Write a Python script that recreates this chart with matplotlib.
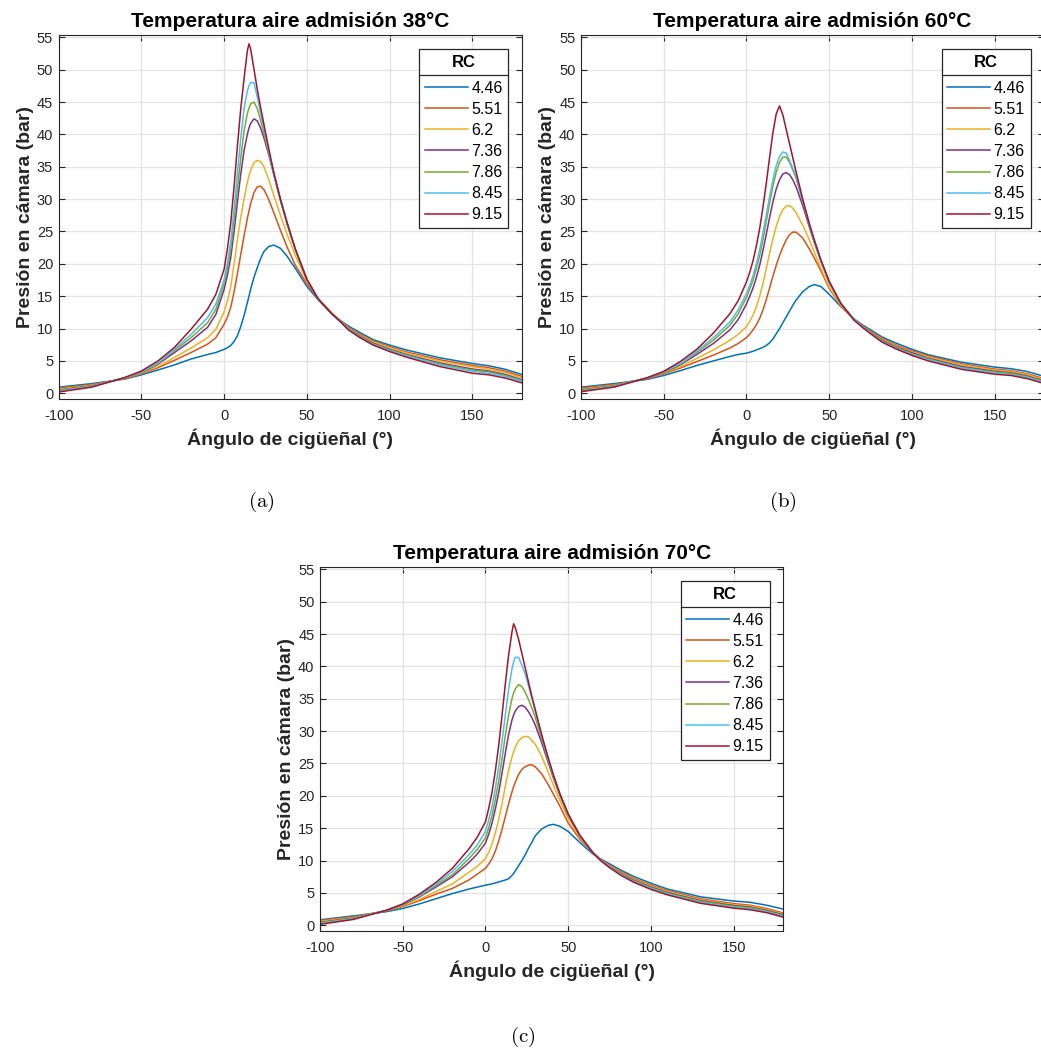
import matplotlib
matplotlib.use('Agg')
import matplotlib.pyplot as plt
from matplotlib.lines import Line2D

plt.rcParams['font.family'] = ['Liberation Sans', 'DejaVu Sans']
plt.rcParams['mathtext.fontset'] = 'cm'
plt.rcParams['axes.unicode_minus'] = False

rc_labels = ['4.46', '5.51', '6.2', '7.36', '7.86', '8.45', '9.15']
colors = ['#0072BD', '#D95319', '#EDB120', '#7E2F8E', '#77AC30', '#4DBEEE', '#A2142F']
titles = ['Temperatura aire admisión 38°C', 'Temperatura aire admisión 60°C',
          'Temperatura aire admisión 70°C']
captions = ['(a)', '(b)', '(c)']

# ---- 38 °C ----
xa = [-100, -80, -60, -50, -40, -30, -20, -10, -5, 0, 2, 4, 6, 8, 10, 12, 14, 15, 16, 18, 20, 22, 24,
      27, 30, 34, 38, 43, 50, 57, 65, 70, 75, 82, 90, 100, 110, 130, 150, 160, 170, 180]
pa_446 = [0.95, 1.5, 2.2, 2.85, 3.6, 4.4, 5.3, 6.0, 6.3, 6.8, 7.05, 7.4, 8.0, 8.9, 10.3, 12.0,
          14.0, 15.0, 16.1, 17.9, 19.4, 20.8, 21.9, 22.7, 22.9, 22.4, 21.2, 19.3, 16.5, 14.4, 12.3,
          11.3, 10.4, 9.4, 8.3, 7.45, 6.7, 5.5, 4.6, 4.25, 3.7, 2.9]
pa_551 = [0.8, 1.35, 2.25, 3.0, 3.95, 5.1, 6.3, 7.6, 8.6, 10.7, 11.8, 13.3, 15.7, 18.5, 21.4, 24.3,
          27.0, 28.2, 29.3, 31.0, 31.9, 32.0, 31.5, 29.9, 27.9, 25.2, 22.6, 19.8, 16.9, 14.6, 12.4,
          11.25, 10.2, 9.15, 8.1, 7.2, 6.4, 5.2, 4.3, 3.95, 3.4, 2.6]
pa_62 = [0.65, 1.25, 2.3, 3.1, 4.15, 5.55, 7.0, 8.6, 9.9, 12.6, 14.3, 16.5, 20.0, 23.8, 27.1, 30.0,
         32.6, 33.6, 34.5, 35.6, 36.0, 35.8, 35.0, 33.0, 30.6, 27.5, 24.6, 21.3, 17.3, 14.6, 12.4,
         11.2, 10.1, 9.0, 7.95, 7.05, 6.25, 5.0, 4.1, 3.75, 3.2, 2.4]
pa_736 = [0.5, 1.15, 2.35, 3.2, 4.5, 6.3, 8.1, 10.2, 12.2, 16.1, 18.3, 21.0, 25.0, 29.5, 33.8, 37.5,
          40.0, 41.0, 41.7, 42.4, 42.1, 41.0, 39.5, 36.8, 33.8, 29.8, 26.2, 22.2, 17.6, 14.5, 12.3,
          11.2, 10.0, 8.85, 7.75, 6.8, 6.0, 4.7, 3.75, 3.45, 2.9, 2.1]
pa_786 = [0.45, 1.1, 2.4, 3.25, 4.6, 6.6, 8.6, 10.9, 13.0, 16.9, 19.3, 22.3, 26.7, 31.5, 36.3, 40.5,
          43.2, 44.1, 44.7, 45.0, 44.0, 42.2, 40.2, 37.0, 33.9, 29.9, 26.3, 22.2, 17.6, 14.5, 12.3,
          11.15, 9.95, 8.75, 7.65, 6.7, 5.9, 4.55, 3.6, 3.3, 2.75, 2.0]
pa_845 = [0.35, 1.05, 2.4, 3.3, 4.7, 6.8, 9.1, 11.7, 13.8, 17.6, 20.2, 23.5, 28.5, 34.0, 39.3, 44.0,
          46.7, 47.5, 48.0, 48.0, 45.8, 43.3, 41.0, 37.4, 34.0, 30.0, 26.4, 22.3, 17.6, 14.5, 12.3,
          11.15, 9.9, 8.7, 7.55, 6.6, 5.8, 4.4, 3.4, 3.1, 2.6, 1.85]
pa_915 = [0.2, 0.95, 2.45, 3.45, 5.0, 7.1, 9.9, 13.0, 15.3, 19.2, 22.4, 26.4, 32.0, 38.2, 43.9, 48.6,
          52.9, 54.0, 53.2, 50.1, 47.0, 44.2, 41.6, 37.7, 34.1, 30.0, 26.4, 22.3, 17.6, 14.5, 12.3,
          11.1, 9.8, 8.6, 7.45, 6.45, 5.6, 4.15, 3.1, 2.85, 2.35, 1.6]

# ---- 60 °C ----
xb = [-100, -80, -60, -50, -40, -30, -20, -10, -5, 0, 2, 4, 6, 8, 10, 12, 14, 16, 18, 20, 22, 24, 26, 28,
      30, 34, 38, 41, 45, 50, 57, 65, 70, 75, 82, 90, 100, 110, 130, 150, 160, 170, 180]
pb_446 = [0.95, 1.5, 2.15, 2.75, 3.5, 4.3, 5.0, 5.7, 6.0, 6.2, 6.35, 6.5, 6.7, 6.9, 7.1, 7.4,
          7.8, 8.4, 9.2, 10.0, 10.9, 11.8, 12.7, 13.6, 14.4, 15.7, 16.5, 16.8, 16.5, 15.3, 13.4, 11.5,
          10.6, 9.8, 8.7, 7.8, 6.8, 5.95, 4.8, 4.05, 3.8, 3.35, 2.6]
pb_551 = [0.8, 1.35, 2.25, 3.0, 3.9, 4.9, 5.9, 7.0, 7.7, 8.6, 9.15, 9.8, 10.6, 11.6, 12.9, 14.5,
          16.3, 18.1, 19.8, 21.3, 22.6, 23.7, 24.5, 24.9, 24.9, 24.0, 22.3, 20.9, 18.9, 16.2, 13.5, 11.4,
          10.5, 9.6, 8.5, 7.5, 6.55, 5.75, 4.55, 3.75, 3.5, 3.0, 2.25]
pb_62 = [0.65, 1.25, 2.3, 3.1, 4.1, 5.4, 6.7, 8.2, 9.1, 10.3, 11.1, 12.1, 13.4, 15.0, 17.0, 19.3,
         21.7, 23.9, 25.8, 27.3, 28.4, 28.9, 29.0, 28.6, 27.9, 26.0, 23.7, 21.8, 19.3, 16.4, 13.6, 11.4,
         10.45, 9.5, 8.35, 7.35, 6.4, 5.6, 4.4, 3.6, 3.35, 2.85, 2.1]
pb_736 = [0.5, 1.15, 2.35, 3.2, 4.4, 6.0, 7.7, 9.8, 11.4, 13.8, 15.0, 16.3, 17.9, 19.8, 22.1, 24.6,
          27.2, 29.6, 31.6, 33.0, 33.9, 34.1, 33.8, 33.0, 31.9, 29.0, 25.7, 23.3, 20.4, 17.1, 13.9, 11.4,
          10.4, 9.4, 8.2, 7.2, 6.25, 5.4, 4.15, 3.4, 3.15, 2.65, 1.9]
pb_786 = [0.45, 1.1, 2.4, 3.25, 4.5, 6.3, 8.2, 10.5, 12.3, 14.8, 16.1, 17.5, 19.3, 21.3, 23.8, 26.6,
          29.4, 32.0, 34.2, 35.7, 36.5, 36.5, 35.7, 34.5, 33.2, 29.7, 26.0, 23.5, 20.5, 17.2, 13.9, 11.4,
          10.35, 9.35, 8.1, 7.1, 6.1, 5.3, 4.0, 3.3, 3.05, 2.55, 1.8]
pb_845 = [0.35, 1.05, 2.4, 3.3, 4.6, 6.5, 8.6, 11.0, 12.9, 15.4, 16.7, 18.2, 20.0, 22.2, 24.8, 27.6,
          30.4, 33.0, 35.2, 36.6, 37.3, 37.1, 36.0, 34.8, 33.5, 29.8, 26.1, 23.6, 20.5, 17.2, 13.9, 11.4,
          10.3, 9.3, 8.0, 7.0, 6.0, 5.2, 3.9, 3.15, 2.9, 2.45, 1.7]
pb_915 = [0.25, 0.95, 2.4, 3.4, 4.9, 6.8, 9.3, 12.3, 14.3, 17.2, 18.7, 20.5, 22.8, 25.5, 28.8, 32.5,
          36.5, 40.3, 43.2, 44.4, 43.0, 40.8, 38.6, 36.4, 34.2, 30.0, 26.2, 23.7, 20.6, 17.3, 13.9, 11.3,
          10.2, 9.2, 7.9, 6.9, 5.85, 5.0, 3.7, 2.95, 2.75, 2.25, 1.5]

# ---- 70 °C ----
xc = [-100, -80, -60, -50, -40, -30, -20, -10, -5, 0, 2, 4, 6, 8, 10, 12, 14, 16, 17, 18, 20, 22, 24, 26, 28,
      30, 34, 38, 41, 45, 50, 57, 65, 70, 75, 82, 90, 100, 110, 130, 150, 160, 170, 180]
pc_446 = [0.85, 1.45, 2.1, 2.6, 3.3, 4.1, 4.9, 5.6, 5.9, 6.2, 6.3, 6.4, 6.55, 6.7, 6.85, 7.0,
          7.2, 7.7, 8.0, 8.4, 9.2, 10.0, 10.9, 11.9, 12.8, 13.8, 14.9, 15.45, 15.6, 15.3, 14.5, 12.8, 11.0,
          10.2, 9.5, 8.5, 7.5, 6.5, 5.6, 4.4, 3.75, 3.55, 3.1, 2.5]
pc_551 = [0.75, 1.3, 2.2, 2.9, 3.8, 4.8, 5.7, 7.0, 7.9, 8.8, 9.5, 10.3, 11.5, 13.0, 14.8, 16.8,
          18.8, 20.6, 21.4, 22.1, 23.3, 24.1, 24.5, 24.75, 24.8, 24.5, 23.4, 21.7, 20.3, 18.4, 15.8, 13.3, 11.2,
          10.1, 9.3, 8.3, 7.2, 6.2, 5.35, 4.1, 3.35, 3.1, 2.6, 1.9]
pc_62 = [0.6, 1.2, 2.25, 3.0, 4.0, 5.2, 6.4, 8.2, 9.1, 10.3, 11.3, 12.6, 14.3, 16.3, 18.8, 21.5,
         24.0, 26.0, 26.8, 27.5, 28.5, 29.0, 29.2, 29.1, 28.6, 28.0, 26.1, 23.6, 21.7, 19.3, 16.5, 13.6, 11.2,
         10.05, 9.2, 8.15, 7.05, 6.05, 5.2, 3.95, 3.2, 2.95, 2.45, 1.75]
pc_736 = [0.45, 1.1, 2.3, 3.15, 4.4, 5.9, 7.5, 9.7, 11.0, 12.7, 14.1, 15.8, 18.0, 20.5, 23.5, 26.6,
          29.5, 31.7, 32.5, 33.1, 33.8, 34.0, 33.7, 33.0, 32.1, 31.0, 28.2, 25.1, 22.8, 20.1, 17.0, 13.9, 11.2,
          10.0, 9.1, 8.0, 6.9, 5.9, 5.05, 3.8, 3.05, 2.8, 2.3, 1.6]
pc_786 = [0.4, 1.05, 2.3, 3.2, 4.5, 6.1, 7.8, 10.3, 11.7, 13.5, 15.1, 17.0, 19.5, 22.3, 25.7, 29.3,
          32.5, 35.0, 35.9, 36.5, 37.2, 36.9, 36.0, 34.9, 33.6, 32.2, 28.8, 25.4, 23.0, 20.2, 17.1, 13.9, 11.2,
          10.0, 9.05, 7.9, 6.8, 5.8, 4.95, 3.7, 2.95, 2.7, 2.2, 1.5]
pc_845 = [0.3, 1.0, 2.3, 3.25, 4.6, 6.3, 8.3, 10.9, 12.4, 14.5, 16.3, 18.4, 21.2, 24.5, 28.4, 32.5,
          36.5, 39.6, 40.7, 41.4, 41.4, 40.2, 38.8, 37.0, 35.1, 33.2, 29.3, 25.7, 23.2, 20.3, 17.2, 13.9, 11.2,
          9.95, 9.0, 7.85, 6.7, 5.7, 4.85, 3.55, 2.8, 2.55, 2.1, 1.4]
pc_915 = [0.15, 0.9, 2.3, 3.3, 4.8, 6.6, 8.8, 11.8, 13.6, 16.0, 18.1, 20.6, 23.9, 27.8, 32.4, 37.3,
          41.8, 45.3, 46.6, 46.0, 44.2, 42.0, 39.8, 37.6, 35.4, 33.4, 29.4, 25.8, 23.3, 20.3, 17.2, 13.9, 11.2,
          9.9, 8.9, 7.7, 6.6, 5.55, 4.7, 3.4, 2.65, 2.4, 1.95, 1.25]

panels = [
    (xa, [pa_446, pa_551, pa_62, pa_736, pa_786, pa_845, pa_915]),
    (xb, [pb_446, pb_551, pb_62, pb_736, pb_786, pb_845, pb_915]),
    (xc, [pc_446, pc_551, pc_62, pc_736, pc_786, pc_845, pc_915]),
]

W, H = 1041, 1049
fig = plt.figure(figsize=(W / 100, H / 100), dpi=100)

# axes boxes in pixels: left, top, width, height
boxes = [(58.7, 35, 463.3, 364), (581, 35, 463.3, 364), (320, 567, 463.3, 364)]
cap_pos = [(261, 502), (783, 502), (523, 1037)]

dark = '#262626'
legends = []
for i, (x, series) in enumerate(panels):
    l, t, w, h = boxes[i]
    ax = fig.add_axes([l / W, 1 - (t + h) / H, w / W, h / H])
    for y, c, lab in zip(series, colors, rc_labels):
        ax.plot(x, y, color=c, lw=1.1, label=lab)
    ax.set_xlim(-100, 180)
    ax.set_ylim(-0.88, 55.36)
    ax.set_xticks(range(-100, 151, 50))
    ax.set_yticks(range(0, 56, 5))
    ax.grid(True, color='#e3e3e3', lw=0.9)
    ax.set_axisbelow(True)
    ax.tick_params(direction='in', length=4, width=0.8, colors=dark, labelsize=10.5,
                   top=True, right=True, pad=4)
    ax.tick_params(axis='x', pad=7)
    for s in ax.spines.values():
        s.set_color(dark)
        s.set_linewidth(0.8)
    ax.set_title(titles[i], fontsize=15, fontweight='bold', pad=6)
    ax.set_xlabel('Ángulo de cigüeñal (°)', fontsize=14, fontweight='bold', color=dark, labelpad=4)
    ax.set_ylabel('Presión en cámara (bar)', fontsize=14, fontweight='bold', color=dark, labelpad=2)
    leg = ax.legend(title='RC', loc='upper right', bbox_to_anchor=(0.9704, 0.9607),
                    borderaxespad=0, fontsize=11.5, title_fontproperties={'weight': 'bold', 'size': 12},
                    fancybox=False, edgecolor=dark, framealpha=1, handlelength=2.7,
                    handletextpad=0.2, borderpad=0.35, labelspacing=0.38)
    leg._legend_box.sep += 3.5  # a bit more room under the title
    leg.get_frame().set_linewidth(0.9)
    legends.append(leg)
    fig.text(cap_pos[i][0] / W, 1 - cap_pos[i][1] / H, r'$\mathrm{' + captions[i] + '}$',
             ha='center', va='center', fontsize=15)

# separator line under the legend title
fig.canvas.draw()
r = fig.canvas.get_renderer()
inv = fig.transFigure.inverted()
for leg in legends:
    bb = leg.get_frame().get_window_extent(r)
    tb = leg.get_title().get_window_extent(r)
    first = leg.get_texts()[0].get_window_extent(r)
    ymid = ((tb.y0 + tb.y1) / 2 + (first.y0 + first.y1) / 2) / 2
    (x0, y0), (x1, _) = inv.transform([(bb.x0, ymid), (bb.x1, ymid)])
    fig.add_artist(Line2D([x0, x1], [y0, y0], transform=fig.transFigure, color=dark, lw=0.9))

fig.savefig('out.png', dpi=100)
